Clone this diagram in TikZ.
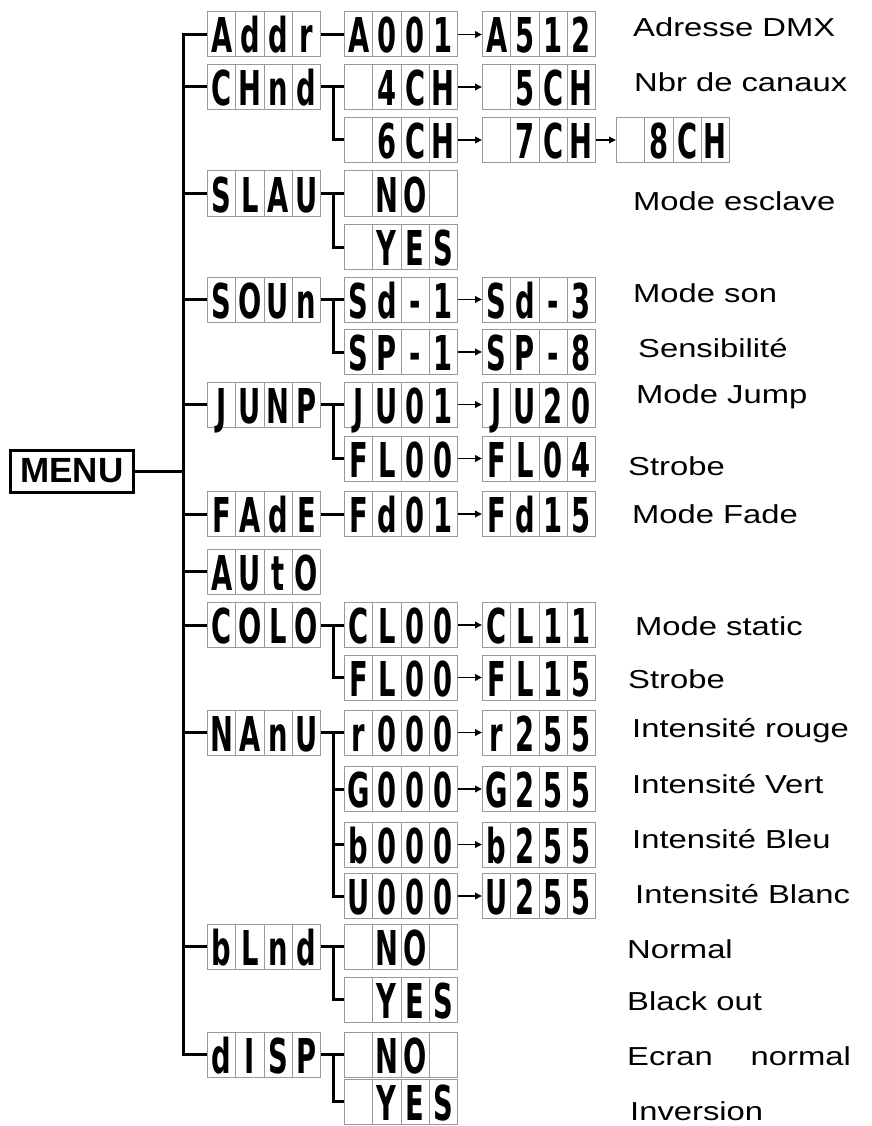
\documentclass[tikz,border=0pt]{standalone}
\usepackage{fontspec}
\usetikzlibrary{arrows.meta,calc}

\newfontfamily\segfont{DejaVu Sans Bold}[FakeStretch=0.57]
\newfontfamily\lblfont{Liberation Sans}[FakeStretch=1.26]
\newfontfamily\menufont{Liberation Sans Bold}
% one display = four cells of equal width
\newcommand\segs[4]{\makebox[28.25pt]{#1}\makebox[28.25pt]{#2}\makebox[28.25pt]{#3}\makebox[28.25pt]{#4}}

\begin{document}
\begin{tikzpicture}[x=1pt, y=-1pt,
  lcd/.style={draw=black!40, line width=1pt, inner sep=0pt, anchor=west,
              minimum width=113pt, minimum height=45pt, text height=41pt, text depth=4pt,
              font=\segfont\fontsize{48pt}{48pt}\selectfont,
              path picture={\foreach \k in {1,2,3}
                \draw[black!40, line width=1pt]
                  ($(path picture bounding box.south west)!\k/4!(path picture bounding box.south east)$) --
                  ($(path picture bounding box.north west)!\k/4!(path picture bounding box.north east)$);}},
  trunk/.style={line width=3pt, black},
  go/.style={line width=1.8pt, -{Triangle[length=7pt, width=6.5pt]}},
  lbl/.style={anchor=base west, inner sep=0pt, font=\lblfont\fontsize{26pt}{30pt}\selectfont},
]
  \useasboundingbox (0,0) rectangle (871,1126);

  \node[draw, line width=3pt, inner sep=0pt, minimum width=123pt, minimum height=42pt,
        font=\menufont\fontsize{35pt}{35pt}\selectfont] (menu) at (72,471) {MENU};
  \coordinate (spine) at (183,471);

  % first level
  \node[lcd] (addr) at (207,34.5) {\segs Addr};
  \node[lcd] (chnd) at (207,87) {\segs CHnd};
  \node[lcd] (slau) at (207,193.5) {\segs SLAU};
  \node[lcd] (soun) at (207,299.5) {\segs SOUn};
  \node[lcd] (junp) at (207,404.5) {\segs JUNP};
  \node[lcd] (fade) at (207,514) {\segs FAdE};
  \node[lcd] (auto) at (207,571.5) {\segs AUtO};
  \node[lcd] (colo) at (207,625) {\segs COLO};
  \node[lcd] (manu) at (207,732.5) {\segs NAnU};
  \node[lcd] (blnd) at (207,946.5) {\segs bLnd};
  \node[lcd] (disp) at (207,1054.5) {\segs dISP};

  % second level
  \node[lcd] (a001) at (344,34.5) {\segs A001};
  \node[lcd] (ch4) at (344,87) {\segs{}4CH};
  \node[lcd] (ch6) at (344,140) {\segs{}6CH};
  \node[lcd] (slno) at (344,193.5) {\segs{}NO{}};
  \node[lcd] (slyes) at (344,247) {\segs{}YES};
  \node[lcd] (sd1) at (344,299.5) {\segs Sd-1};
  \node[lcd] (sp1) at (344,352) {\segs SP-1};
  \node[lcd] (ju1) at (344,404.5) {\segs JU01};
  \node[lcd] (jfl0) at (344,458.5) {\segs FL00};
  \node[lcd] (fd1) at (344,514) {\segs Fd01};
  \node[lcd] (cl0) at (344,625) {\segs CL00};
  \node[lcd] (cfl0) at (344,677.5) {\segs FL00};
  \node[lcd] (r0) at (344,732.5) {\segs r000};
  \node[lcd] (g0) at (344,789) {\segs G000};
  \node[lcd] (b0) at (344,844.5) {\segs b000};
  \node[lcd] (u0) at (344,896) {\segs U000};
  \node[lcd] (blno) at (344,946.5) {\segs{}NO{}};
  \node[lcd] (blyes) at (344,999.5) {\segs{}YES};
  \node[lcd] (dno) at (344,1054.5) {\segs{}NO{}};
  \node[lcd] (dyes) at (344,1101.5) {\segs{}YES};

  % third and fourth level
  \node[lcd] (a512) at (482,34.5) {\segs A512};
  \node[lcd] (ch5) at (482,87) {\segs{}5CH};
  \node[lcd] (ch7) at (482,140) {\segs{}7CH};
  \node[lcd] (ch8) at (616,140) {\segs{}8CH};
  \node[lcd] (sd3) at (482,299.5) {\segs Sd-3};
  \node[lcd] (sp8) at (482,352) {\segs SP-8};
  \node[lcd] (ju20) at (482,404.5) {\segs JU20};
  \node[lcd] (jfl4) at (482,458.5) {\segs FL04};
  \node[lcd] (fd15) at (482,514) {\segs Fd15};
  \node[lcd] (cl11) at (482,625) {\segs CL11};
  \node[lcd] (cfl15) at (482,677.5) {\segs FL15};
  \node[lcd] (r255) at (482,732.5) {\segs r255};
  \node[lcd] (g255) at (482,789) {\segs G255};
  \node[lcd] (b255) at (482,844.5) {\segs b255};
  \node[lcd] (u255) at (482,896) {\segs U255};

  % tree lines
  \draw[trunk] (menu) -- (spine);
  \draw[trunk] (addr.west) -| (spine) |- (disp.west);
  \foreach \n in {chnd,slau,soun,junp,fade,auto,colo,manu,blnd}
    \draw[trunk] (\n.west) -- (\n.west -| spine);
  \draw[trunk] (addr) -- (a001);
  \draw[trunk] (fade) -- (fd1);
  \foreach \p/\a/\b in {chnd/ch4/ch6, slau/slno/slyes, soun/sd1/sp1, junp/ju1/jfl0,
                        colo/cl0/cfl0, manu/r0/u0, blnd/blno/blyes, disp/dno/dyes}
    {\draw[trunk] (\p.east) -- (\a.west);
     \draw[trunk] (\p.east) ++(12,0) |- (\b.west);}
  \foreach \n in {g0,b0}
    \draw[trunk] (\n.west) -- ++(-12,0);

  \foreach \a/\b in {a001/a512, ch4/ch5, ch6/ch7, ch7/ch8, sd1/sd3, sp1/sp8, ju1/ju20,
                     jfl0/jfl4, fd1/fd15, cl0/cl11, cfl0/cfl15, r0/r255, g0/g255, b0/b255, u0/u255}
    \draw[go] (\a) -- (\b);

  % descriptions
  \node[lbl] (tadr) at (633,37) {Adresse DMX};
  \node[lbl] (tch) at (634,92) {Nbr de canaux};
  \node[lbl] (tsl) at (633,210) {Mode esclave};
  \node[lbl] (tsd) at (633,302) {Mode son};
  \node[lbl] (tsp) at (638,357) {Sensibilité};
  \node[lbl] (tju) at (636,403) {Mode Jump};
  \node[lbl] (tjfl) at (628,475) {Strobe};
  \node[lbl] (tfd) at (632,523) {Mode Fade};
  \node[lbl] (tcl) at (635,635) {Mode static};
  \node[lbl] (tcfl) at (628,688) {Strobe};
  \node[lbl] (tr) at (632,737) {Intensité rouge};
  \node[lbl] (tg) at (632,793) {Intensité Vert};
  \node[lbl] (tb) at (632,848) {Intensité Bleu};
  \node[lbl] (tu) at (635,903) {Intensité Blanc};
  \node[lbl] (tbno) at (627,958) {Normal};
  \node[lbl] (tbyes) at (627,1010) {Black out};
  \node[lbl] (tdno) at (627,1065) {Ecran\hspace{38pt}normal};
  \node[lbl] (tdyes) at (630,1120) {Inversion};
\end{tikzpicture}
\end{document}
